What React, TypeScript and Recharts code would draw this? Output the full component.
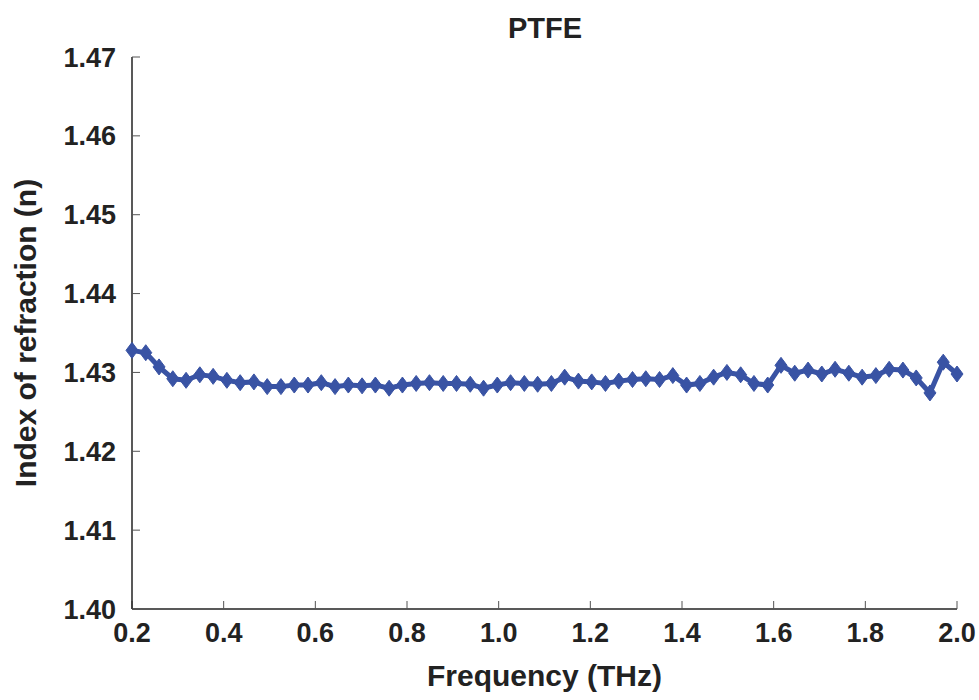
import { LineChart, Line, XAxis, YAxis, Label } from "recharts";

// frequency (THz)
const frequency = [
  0.2, 0.23, 0.259, 0.289, 0.318, 0.348, 0.377, 0.407, 0.436, 0.466,
  0.495, 0.525, 0.554, 0.584, 0.613, 0.643, 0.672, 0.702, 0.731, 0.761,
  0.79, 0.82, 0.849, 0.879, 0.908, 0.938, 0.967, 0.997, 1.026, 1.056,
  1.085, 1.115, 1.144, 1.174, 1.203, 1.233, 1.262, 1.292, 1.321, 1.351,
  1.38, 1.41, 1.439, 1.469, 1.498, 1.528, 1.557, 1.587, 1.616, 1.646,
  1.675, 1.705, 1.734, 1.764, 1.793, 1.823, 1.852, 1.882, 1.911, 1.941,
  1.97, 2.0,
];

// index of refraction
const refIndex = [
  1.4328, 1.4325, 1.4307, 1.4292, 1.429, 1.4297, 1.4295, 1.429, 1.4287, 1.4288,
  1.4282, 1.4282, 1.4284, 1.4284, 1.4287, 1.4282, 1.4284, 1.4283, 1.4284, 1.428,
  1.4284, 1.4286, 1.4287, 1.4286, 1.4286, 1.4285, 1.428, 1.4284, 1.4287, 1.4286,
  1.4285, 1.4286, 1.4294, 1.4289, 1.4288, 1.4286, 1.4289, 1.4291, 1.4292, 1.4291,
  1.4296, 1.4284, 1.4286, 1.4294, 1.43, 1.4297, 1.4286, 1.4284, 1.4309, 1.4299,
  1.4303, 1.4298, 1.4304, 1.4299, 1.4294, 1.4296, 1.4304, 1.4303, 1.4293, 1.4274,
  1.4313, 1.4298,
];

const xTicks = [0.2, 0.4, 0.6, 0.8, 1.0, 1.2, 1.4, 1.6, 1.8, 2.0];
const yTicks = [1.4, 1.41, 1.42, 1.43, 1.44, 1.45, 1.46, 1.47];

const data = frequency.map((f, i) => ({ f, n: refIndex[i] }));

const BLUE = "#3953a4";
const FONT = "'Liberation Sans', Arial, sans-serif";

const Diamond = (props: any) => {
  const { cx, cy } = props;
  if (cx == null || cy == null) return null;
  return (
    <path
      d={`M${cx},${cy - 8} L${cx + 6},${cy} L${cx},${cy + 8} L${cx - 6},${cy} Z`}
      fill={BLUE}
      stroke={BLUE}
      strokeWidth={1}
    />
  );
};

const NoTick = () => <g />;

const axisLine = { stroke: "#222", strokeWidth: 1.5 };
const tickLine = { stroke: "#555", strokeWidth: 1 };
const tickStyle = { fill: "#222", fontSize: 27, fontWeight: 700, fontFamily: FONT };

export default function App() {
  return (
    <div style={{ position: "absolute", left: 0, top: 0, background: "#fff" }}>
      <div
        style={{
          position: "absolute",
          left: 0,
          width: 1090,
          top: 12,
          textAlign: "center",
          fontFamily: FONT,
          fontWeight: 700,
          fontSize: 29,
          color: "#222",
        }}
      >
        PTFE
      </div>
      <LineChart
        width={979}
        height={700}
        data={data}
        margin={{ top: 57, right: 22, left: 0, bottom: 0 }}
      >
        <XAxis
          xAxisId="b"
          dataKey="f"
          type="number"
          domain={[0.2, 2.0]}
          ticks={xTicks}
          tickFormatter={(v: number) => v.toFixed(1)}
          height={91}
          axisLine={axisLine}
          tickLine={tickLine}
          tickSize={-8}
          tickMargin={22}
          tick={tickStyle}
          interval={0}
        >
          <Label
            value="Frequency (THz)"
            position="insideBottom"
            offset={14}
            style={{ fill: "#222", fontSize: 30, fontWeight: 700, fontFamily: FONT }}
          />
        </XAxis>
        <XAxis
          xAxisId="t"
          orientation="top"
          dataKey="f"
          type="number"
          domain={[0.2, 2.0]}
          ticks={xTicks}
          height={0}
          axisLine={axisLine}
          tickLine={tickLine}
          tickSize={-8}
          tick={NoTick}
          interval={0}
        />
        <YAxis
          yAxisId="l"
          type="number"
          domain={[1.4, 1.47]}
          ticks={yTicks}
          tickFormatter={(v: number) => v.toFixed(2)}
          width={132}
          axisLine={axisLine}
          tickLine={tickLine}
          tickSize={-8}
          tickMargin={24}
          tick={tickStyle}
          interval={0}
        >
          <Label
            value="Index of refraction (n)"
            angle={-90}
            position="insideLeft"
            offset={25}
            style={{
              fill: "#222",
              fontSize: 30,
              fontWeight: 700,
              fontFamily: FONT,
              textAnchor: "middle",
            }}
          />
        </YAxis>
        <YAxis
          yAxisId="r"
          orientation="right"
          type="number"
          domain={[1.4, 1.47]}
          ticks={yTicks}
          width={0}
          axisLine={axisLine}
          tickLine={tickLine}
          tickSize={-8}
          tick={NoTick}
          interval={0}
        />
        <Line
          xAxisId="b"
          yAxisId="l"
          dataKey="n"
          type="linear"
          stroke={BLUE}
          strokeWidth={5}
          dot={<Diamond />}
          activeDot={false}
          isAnimationActive={false}
        />
      </LineChart>
    </div>
  );
}
